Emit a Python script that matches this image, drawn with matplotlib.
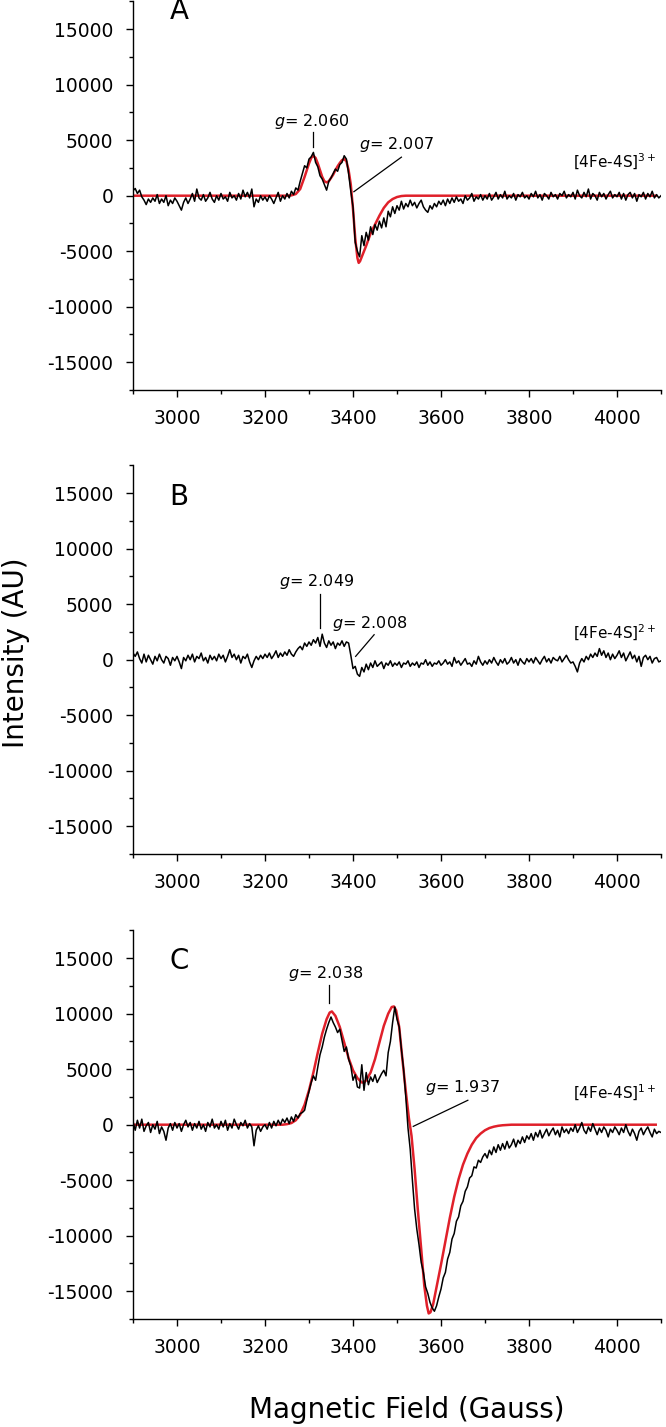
import matplotlib
matplotlib.use('Agg')
import matplotlib.pyplot as plt
from matplotlib.ticker import MultipleLocator
import numpy as np

plt.rcParams['font.family'] = ['DejaVu Sans']
plt.rcParams['mathtext.fontset'] = 'dejavusans'
plt.rcParams['axes.unicode_minus'] = False

# recorded spectra, one value every 5 G from 2900 to 4100 G
field = np.arange(2900, 4101, 5)

spec_a = [
    450, 650, 200, 500, -100, -400, -800, -300, -600, -200, -500, 100, -700, -300, -600, 0, -900, -400, -700, -200,
    -500, -900, -1300, -600, -200, -700, -300, 200, -500, 600, -200, -400, 100, -500, -200, 300, -300, -600, 0, -400,
    200, -300, -100, -500, 300, -200, 0, -400, 200, -300, 500, -100, 300, -200, 600, -1000, -300, -600, 0, -400,
    -100, -500, 0, -300, -700, -200, 300, -500, 0, -300, 200, -200, 400, 100, 700, 500, 1300, 2000, 2700, 2500,
    3300, 3500, 3900, 3000, 2600, 1800, 1500, 1000, 500, 1300, 1600, 2000, 2400, 2200, 2800, 3000, 3600, 3300, 2000, 400,
    -1000, -4200, -5000, -5500, -3600, -4500, -3300, -4000, -2800, -3500, -2600, -3100, -2300, -2900, -2000, -2800, -1400, -1900, -1000, -1600,
    -900, -1300, -500, -1200, -700, -1000, -400, -900, -600, -1100, -700, -400, -1000, -1300, -1500, -900, -1200, -700, -1000, -500,
    -800, -400, -900, -300, -700, -200, -600, -100, -500, -300, -700, 0, -400, -200, 200, -500, -100, -300, 100, -400,
    0, -300, 200, -400, -100, 300, -300, 100, -200, 400, -300, 0, -200, 200, -400, 100, -100, 300, -200, 0,
    -300, 200, -100, 400, -200, 100, -400, 200, 0, -300, 300, -100, 100, -300, 200, 0, 400, -200, 100, -100,
    300, -300, 500, 0, -200, 300, -100, 600, -300, 200, 0, -400, 300, -100, 200, -300, 100, 400, -200, 100,
    -100, 300, -300, 200, -400, 100, 300, -200, 200, -500, 100, -100, 300, -300, 200, -100, 400, -200, 100, -200,
    0,
]

spec_b = [
    600, 300, 700, 100, -300, 500, -200, 400, 0, -400, 300, -100, 500, 0, -300, 300, 100, -500, 200, -100,
    300, -200, -800, 200, -100, 400, 0, 500, -200, 300, 100, 600, -100, 200, -300, 400, 0, 300, -100, 500,
    100, 400, -200, 300, 900, 200, 500, 0, 400, -300, 300, 100, 500, -200, -700, -100, 300, 0, 400, 100,
    500, 200, 600, 100, 400, 800, 200, 600, 300, 700, 400, 900, 500, 300, 700, 1000, 1200, 900, 1500, 1200,
    1600, 1300, 1800, 1500, 2000, 1200, 2300, 1500, 1100, 1700, 1300, 1600, 1000, 1500, 1300, 1700, 1200, 1600, 1500, 400,
    -800, -600, -1300, -1500, -700, -1100, -400, -900, -300, -700, -100, -600, -400, -200, -800, -300, -500, -100, -600, -300,
    -500, -200, -700, -300, -400, -100, -600, -300, -500, -200, -700, -300, -400, 0, -500, -200, -600, -300, -400, -100,
    -500, -300, 0, -400, -200, -600, 200, -300, -100, -500, -200, 100, -400, -300, -600, -100, -400, 300, -200, -500,
    -100, -400, 0, -300, 200, -200, -500, 0, -300, 100, -400, -200, 200, -300, 0, -500, 100, -200, -400, 100,
    -200, 100, -300, 200, -100, -400, 0, 300, -200, 100, -300, 200, 0, -100, 300, -200, 100, 400, 0, -300,
    -200, -600, -1100, -300, 100, -200, 300, 0, 500, 200, 600, 300, 1000, 400, 800, 200, 600, 0, 500, 100,
    400, 800, 200, 600, -100, 300, 700, 100, 400, -200, 300, -600, 200, 400, 0, 300, -300, 100, 200, -200,
    -100,
]

spec_c = [
    300, -500, 400, -300, 500, -600, -100, 200, -700, 0, -400, 300, -800, -200, -600, -1400, -300, 100, -500, 200,
    -300, 100, -600, 0, 400, -200, 200, -500, 100, -300, 300, -400, 0, -600, 200, -200, 500, -300, 0, -400,
    300, -200, 400, -500, 100, -300, 500, 0, -400, 200, -100, 400, -300, 100, -200, -1900, -500, -100, -600, -200,
    0, -400, 200, -300, 300, -100, 400, 0, 500, 200, 600, 100, 700, 300, 900, 600, 1000, 1100, 1300, 2200,
    3000, 3800, 4400, 4000, 5200, 6300, 7000, 7900, 8600, 9200, 9700, 9200, 8800, 8300, 8600, 7600, 6600, 7000, 5900, 5300,
    4000, 4500, 3400, 3300, 5400, 3100, 4700, 3600, 4300, 3900, 4500, 3800, 4200, 4600, 4900, 4400, 6500, 7500, 9200, 10600,
    9500, 8800, 6800, 5000, 2500, -300, -2200, -5000, -7600, -9400, -10800, -12400, -13300, -14600, -15200, -16000, -16500, -16800, -16300, -15500,
    -14800, -13800, -13300, -12100, -11500, -10300, -9800, -8700, -8300, -7300, -6900, -6000, -5600, -4800, -4600, -3800, -3900, -3200, -3400, -2900,
    -2600, -3000, -2300, -2700, -2000, -2500, -1800, -2300, -1700, -2200, -1500, -2100, -1800, -1300, -2000, -1400, -1700, -1100, -1600, -1000,
    -1300, -800, -1400, -700, -1100, -500, -1200, -800, -400, -1000, -600, -300, -900, -500, -1100, -200, -700, -400, -800, -300,
    -600, 0, -700, -300, 200, -500, -800, -200, -600, 100, -400, -900, -300, -700, -200, -500, -1100, -400, -700, -200,
    -500, -900, -300, -700, 0, -600, -1000, -400, -800, -1400, -600, -300, -900, -500, -200, -700, -1100, -400, -800, -600,
    -700,
]

# simulated spectra (red), read off at the points below
fit_a_field = [2900, 3000, 3100, 3200, 3250, 3260, 3270, 3280, 3290, 3300, 3305, 3310, 3315, 3320, 3325, 3330,
               3335, 3340, 3345, 3350, 3355, 3360, 3365, 3370, 3375, 3380, 3385, 3390, 3395, 3400, 3405, 3410,
               3413, 3416, 3420, 3430, 3440, 3450, 3460, 3470, 3480, 3490, 3500, 3510, 3520, 3600, 3800, 4000, 4088]
fit_a = [0, 0, 0, 0, 0, 30, 150, 600, 1700, 2900, 3400, 3600, 3400, 2900, 2300, 1700,
         1300, 1200, 1300, 1600, 1900, 2300, 2650, 2950, 3200, 3300, 3100, 2300, 1000, -1200, -3800, -5600,
         -6050, -5900, -5500, -4500, -3400, -2600, -1800, -1100, -600, -300, -120, -30, 0, 0, 0, 0, 0]

fit_c_field = [2900, 3000, 3100, 3200, 3240, 3250, 3260, 3270, 3280, 3290, 3300, 3310, 3320, 3330, 3340, 3347,
               3352, 3360, 3370, 3380, 3390, 3400, 3410, 3420, 3425, 3430, 3440, 3450, 3460, 3470, 3480, 3488,
               3493, 3498, 3505, 3512, 3520, 3527, 3533, 3540, 3547, 3555, 3562, 3568, 3572, 3576, 3582, 3590,
               3600, 3610, 3620, 3630, 3640, 3650, 3660, 3670, 3680, 3690, 3700, 3710, 3720, 3730, 3740, 3760,
               3800, 3900, 4000, 4088]
fit_c = [0, 0, 0, 0, 0, 50, 150, 400, 900, 1800, 3100, 4700, 6500, 8200, 9500, 10100,
         10200, 9800, 8800, 7400, 6000, 4900, 4200, 3800, 3800, 4000, 4700, 5900, 7400, 8900, 10000, 10600,
         10650, 10300, 8800, 6000, 3000, 600, -1000, -4000, -7500, -11200, -14500, -16300, -17000, -16900, -16200, -14600,
         -12600, -10500, -8400, -6500, -4900, -3600, -2600, -1800, -1200, -800, -500, -300, -180, -100, -50, 0,
         0, 0, 0, 0]

panel_letters = ['A', 'B', 'C']
letter_y = [16600, 14640, 14700]
species = [r'[4Fe-4S]$^{3+}$', r'[4Fe-4S]$^{2+}$', r'[4Fe-4S]$^{1+}$']
species_y = [3000, 2400, 2850]

# g-value labels: (text, text x, text y, line x0, y0, x1, y1)
g_marks = [
    [('2.060', 3305, 6700, 3310, 5700, 3310, 4400),
     ('2.007', 3500, 4630, 3402, 360, 3510, 3470)],
    [('2.049', 3317, 7050, 3326, 5950, 3326, 2850),
     ('2.008', 3438, 3300, 3406, 300, 3448, 2250)],
    [('2.038', 3338, 13640, 3345, 12600, 3345, 10950),
     ('1.937', 3650, 3330, 3537, -150, 3661, 2200)],
]

W, H = 666, 1427
fig = plt.figure(figsize=(W / 100, H / 100), dpi=100)

left = 133 / W
width = 528 / W
height = 388.6 / H
bottoms = [1 - 390 / H, 1 - 854 / H, 1 - 1319 / H]

specs = [spec_a, spec_b, spec_c]
fits = [(fit_a_field, fit_a), None, (fit_c_field, fit_c)]

for i in range(3):
    ax = fig.add_axes([left, bottoms[i], width, height])
    if fits[i] is not None:
        ax.plot(fits[i][0], fits[i][1], color='#e0202a', lw=1.8, zorder=2)
    ax.plot(field, specs[i], color='black', lw=1.1, zorder=3)

    ax.set_xlim(2900, 4100)
    ax.set_ylim(-17500, 17500)
    ax.xaxis.set_major_locator(MultipleLocator(200))
    ax.xaxis.set_minor_locator(MultipleLocator(100))
    ax.yaxis.set_major_locator(MultipleLocator(5000))
    ax.yaxis.set_minor_locator(MultipleLocator(2500))
    ax.set_xticks([3000, 3200, 3400, 3600, 3800, 4000])
    ax.set_yticks([-15000, -10000, -5000, 0, 5000, 10000, 15000])
    ax.spines['top'].set_visible(False)
    ax.spines['right'].set_visible(False)
    ax.spines['left'].set_linewidth(1.0)
    ax.spines['bottom'].set_linewidth(1.0)
    ax.tick_params(which='major', direction='out', length=5, width=1, pad=9, labelsize=13.5)
    ax.tick_params(which='minor', direction='out', length=3, width=1)

    ax.text(3005, letter_y[i], panel_letters[i], fontsize=20, ha='center', va='center')
    ax.text(4090, species_y[i], species[i], fontsize=11, ha='right', va='center')

    for txt, tx, ty, x0, y0, x1, y1 in g_marks[i]:
        ax.text(tx, ty, '$g$= ' + txt, fontsize=11.5, ha='center', va='center')
        ax.plot([x0, x1], [y0, y1], color='black', lw=0.9)

fig.text(16 / W, 1 - 653 / H, 'Intensity (AU)', rotation=90, fontsize=20, ha='center', va='center')
fig.text(407 / W, 1 - 1410 / H, 'Magnetic Field (Gauss)', fontsize=20, ha='center', va='center')

fig.savefig('out.png', dpi=100)
